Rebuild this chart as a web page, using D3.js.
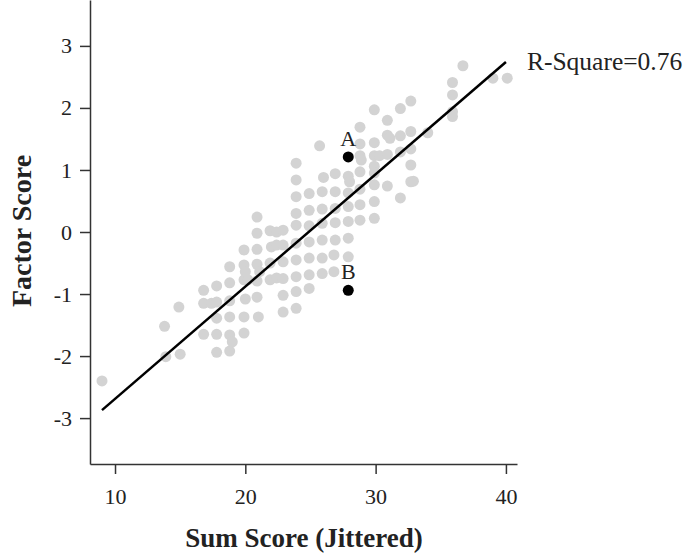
<!DOCTYPE html>
<html>
<head>
<meta charset="utf-8">
<script src="https://cdn.jsdelivr.net/npm/d3@7"></script>
<style>
  body { margin: 0; background: #fff; }
  .chart text { font-family: "Liberation Serif", "DejaVu Serif", serif; fill: #222; }
  .axis path, .axis line { stroke: #333; stroke-width: 1.5; }
  .axis text { font-size: 22px; }
  .title { font-size: 27px; font-weight: bold; }
</style>
</head>
<body>
<div class="chart"></div>
<script>
// sum score (jittered) and factor score of each respondent
var sumScores = [
  9.0,
  13.8, 13.9, 14.9, 15.0,
  16.8, 16.8, 17.4, 16.8,
  17.8, 17.8, 17.8, 17.8, 17.8,
  18.8, 18.8, 18.8, 18.8, 18.8, 18.8, 19.0,
  19.9, 19.9, 20.0, 19.9, 20.2, 20.0, 19.9, 19.9,
  20.9, 20.9, 20.9, 20.9, 21.1, 20.9, 20.9, 21.0,
  21.9, 22.4, 22.0, 22.4, 21.9, 21.9, 22.4,
  22.9, 22.9, 22.9, 22.9, 22.9, 22.9,
  23.9, 23.9, 23.9, 23.9, 23.9, 23.9, 23.9, 23.9, 23.9, 23.9,
  24.9, 24.9, 24.9, 24.9, 24.9, 24.9, 24.9,
  25.7, 26.0, 25.9, 25.9, 25.9, 25.9, 25.9, 25.9,
  26.9, 26.9, 26.9, 26.9, 26.9, 26.8, 26.8,
  27.9, 28.0, 27.9, 27.9, 27.9, 27.9, 27.9,
  28.8, 28.8, 28.8, 28.9, 28.8, 28.8, 28.8, 28.8,
  29.9, 29.9, 29.9, 30.3, 29.9, 29.9, 29.9, 29.9, 29.9,
  30.9, 30.9, 31.1, 30.9, 30.9,
  31.9, 31.9, 31.9, 31.9,
  32.7, 32.7, 32.7, 32.7, 32.7, 32.9,
  34.0,
  35.9, 35.9, 35.9, 35.9,
  36.7, 39.0, 40.1
]
var factorScores = [
  -2.40,
  -1.52, -2.01, -1.21, -1.97,
  -0.94, -1.15, -1.15, -1.65,
  -0.87, -1.13, -1.39, -1.65, -1.94,
  -0.56, -0.82, -1.11, -1.37, -1.66, -1.92, -1.77,
  -0.29, -0.53, -0.64, -0.77, -0.77, -1.08, -1.37, -1.63,
  0.24, -0.02, -0.28, -0.52, -0.64, -0.79, -1.05, -1.37,
  0.02, 0.00, -0.24, -0.21, -0.50, -0.77, -0.74,
  0.03, -0.21, -0.48, -0.75, -1.02, -1.29,
  1.11, 0.84, 0.57, 0.30, 0.11, -0.18, -0.45, -0.72, -0.96, -1.23,
  0.62, 0.35, 0.10, -0.16, -0.42, -0.69, -0.91,
  1.39, 0.88, 0.65, 0.37, 0.14, -0.13, -0.42, -0.67,
  0.94, 0.65, 0.38, 0.15, -0.13, -0.37, -0.64,
  0.90, 0.81, 0.63, 0.41, 0.17, -0.10, -0.40,
  1.69, 1.42, 1.23, 1.16, 0.97, 0.69, 0.44, 0.19,
  1.97, 1.44, 1.23, 1.23, 1.06, 0.95, 0.76, 0.49, 0.22,
  1.80, 1.56, 1.51, 1.25, 0.74,
  1.99, 1.55, 1.29, 0.55,
  2.11, 1.62, 1.34, 1.08, 0.81, 0.82,
  1.60,
  2.41, 2.21, 1.94, 1.86,
  2.68, 2.48, 2.48
]
// the two highlighted respondents
var flagNames = ["A", "B"]
var flagSum = [27.9, 27.9]
var flagFactor = [1.21, -0.94]

// fitted regression line
var fitX = [9, 40]
var fitIntercept = -4.50
var fitSlope = 0.181
var rSquare = 0.76

var xTicks = [10, 20, 30, 40]
var yTicks = [-3, -2, -1, 0, 1, 2, 3]

var width = 685, height = 553
var svg = d3.select(".chart").append("svg")
    .attr("width", width)
    .attr("height", height)

var x = d3.scaleLinear().domain([8.08, 40.85]).range([90, 517])
var y = d3.scaleLinear().domain([-3.74, 3.74]).range([464, 0])

// axes (plain hyphen for negatives, like the original)
svg.append("g")
    .attr("class", "axis")
    .attr("transform", "translate(90,0)")
    .call(d3.axisLeft(y).tickValues(yTicks).tickSize(10).tickSizeOuter(0).tickPadding(8)
      .tickFormat(function(d) { return String(d) }))
svg.append("g")
    .attr("class", "axis")
    .attr("transform", "translate(0,464)")
    .call(d3.axisBottom(x).tickValues(xTicks).tickSize(10).tickSizeOuter(0).tickPadding(14))

var points = sumScores.map(function(s, i) { return {s: s, f: factorScores[i]} })

svg.append("g")
  .selectAll("circle")
  .data(points)
  .enter().append("circle")
    .attr("cx", function(d) { return x(d.s) })
    .attr("cy", function(d) { return y(d.f) })
    .attr("r", 5.5)
    .attr("fill", "#d3d3d3")

// regression line
svg.append("line")
    .attr("x1", x(fitX[0]))
    .attr("y1", y(fitIntercept + fitSlope * fitX[0]))
    .attr("x2", x(fitX[1]))
    .attr("y2", y(fitIntercept + fitSlope * fitX[1]))
    .attr("stroke", "#000")
    .attr("stroke-width", 2.5)

svg.append("text")
    .attr("x", x(fitX[1]) + 21)
    .attr("y", y(fitIntercept + fitSlope * fitX[1]) + 8)
    .style("font-size", "25.5px")
    .text("R-Square=" + rSquare)

// flagged respondents
var flags = svg.append("g")
  .selectAll("g")
  .data(flagNames)
  .enter().append("g")
flags.append("circle")
    .attr("cx", function(d, i) { return x(flagSum[i]) })
    .attr("cy", function(d, i) { return y(flagFactor[i]) })
    .attr("r", 5.5)
    .attr("fill", "#000")
flags.append("text")
    .attr("x", function(d, i) { return x(flagSum[i]) })
    .attr("y", function(d, i) { return y(flagFactor[i]) - 11 })
    .attr("text-anchor", "middle")
    .style("font-size", "22px")
    .text(function(d) { return d })

// axis titles
svg.append("text")
    .attr("class", "title")
    .attr("x", 304)
    .attr("y", 547)
    .attr("text-anchor", "middle")
    .text("Sum Score (Jittered)")
svg.append("text")
    .attr("class", "title")
    .attr("transform", "translate(31,231) rotate(-90)")
    .attr("text-anchor", "middle")
    .style("font-size", "28px")
    .text("Factor Score")
</script>
</body>
</html>
